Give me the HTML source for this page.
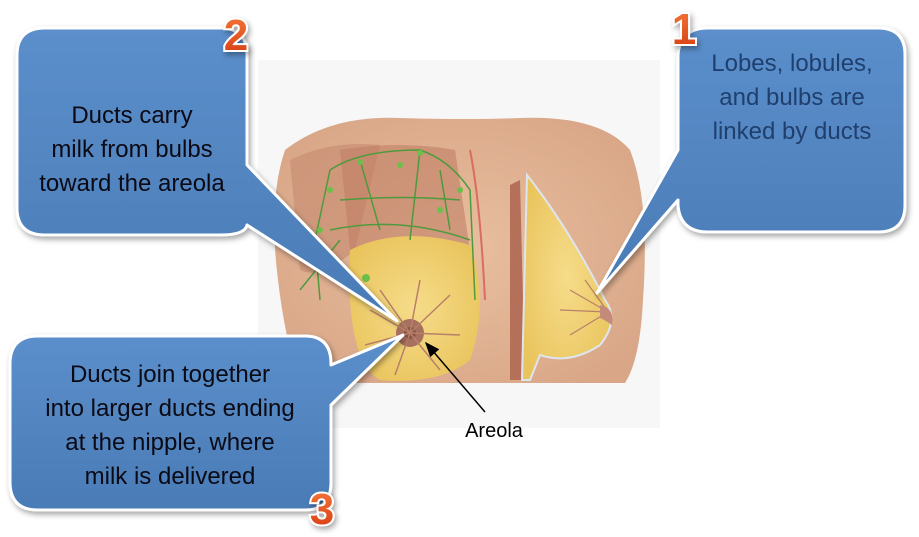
<!DOCTYPE html>
<html><head><style>
html,body{margin:0;padding:0;background:#fff;}
svg{display:block;}
text{font-family:"Liberation Sans",sans-serif;}
</style></head><body>
<svg width="919" height="537" viewBox="0 0 919 537" xmlns="http://www.w3.org/2000/svg">
<defs>
<linearGradient id="bl" x1="0" y1="0" x2="0" y2="1">
<stop offset="0" stop-color="#5b8fcb"/><stop offset="1" stop-color="#4a7bb6"/></linearGradient>
<linearGradient id="num" x1="0" y1="0" x2="0" y2="1">
<stop offset="0" stop-color="#f47a3a"/><stop offset="1" stop-color="#d63a10"/></linearGradient>
<radialGradient id="skin" cx="0.5" cy="0.5" r="0.6">
<stop offset="0" stop-color="#e8bf9f"/><stop offset="1" stop-color="#d9a788"/></radialGradient>
<radialGradient id="fat" cx="0.5" cy="0.5" r="0.6">
<stop offset="0" stop-color="#f6dc8a"/><stop offset="1" stop-color="#e9c45c"/></radialGradient>
<filter id="sh" x="-10%" y="-10%" width="130%" height="130%"><feDropShadow dx="2" dy="3" stdDeviation="3" flood-color="#000" flood-opacity="0.35"/></filter>
<marker id="ar" markerWidth="10" markerHeight="8" refX="9" refY="4" orient="auto"><path d="M0,0 L10,4 L0,8 z" fill="#000"/></marker>
</defs>
<rect x="258" y="60" width="402" height="368" fill="#f7f7f7"/>
<path d="M285,150 Q330,115 400,118 Q470,120 520,118 Q600,115 630,150 Q650,200 643,300 Q640,360 625,383 L300,383 Q285,340 278,280 Q268,200 285,150 Z" fill="url(#skin)"/>
<path d="M290,160 Q330,140 380,145 L355,250 Q320,280 300,270 Z" fill="#c98e73" opacity="0.7"/>
<path d="M340,150 Q400,140 455,150 L470,250 L350,250 Z" fill="#c07f66" opacity="0.6"/>
<path d="M350,250 Q400,225 470,245 Q490,300 470,360 Q440,385 380,380 Q345,360 350,250 Z" fill="url(#fat)"/>
<circle cx="410" cy="333" r="14" fill="#a8705e"/><circle cx="410" cy="333" r="6" fill="#8a5546"/>
<g stroke="#b7806a" stroke-width="1.5" fill="none">
<path d="M410,333 L380,290 M410,333 L420,280 M410,333 L450,295 M410,333 L460,335 M410,333 L440,370 M410,333 L395,375 M410,333 L365,345 M410,333 L370,310"/></g>
<g stroke="#4f9a3c" stroke-width="1.5" fill="none">
<path d="M330,170 Q360,150 420,150 Q450,160 470,190 L475,300 M330,170 L315,240 L320,300 M360,160 L380,230 M420,150 L410,240 M440,170 L450,230 M340,200 Q400,195 460,200 M330,230 Q400,215 470,240 M300,290 L340,240"/></g>
<g fill="#6cbf4a"><circle cx="360" cy="162" r="3"/><circle cx="420" cy="153" r="3"/><circle cx="400" cy="165" r="3"/><circle cx="460" cy="190" r="3"/><circle cx="330" cy="190" r="3"/><circle cx="320" cy="230" r="3"/><circle cx="366" cy="278" r="4"/><circle cx="440" cy="210" r="3"/></g>
<path d="M470,150 Q480,200 485,300" stroke="#d96d5e" stroke-width="2" fill="none"/>
<path d="M510,185 L520,180 L525,380 L510,380 Z" fill="#b5705a"/>
<path d="M527,175 Q570,230 605,300 Q620,320 600,345 Q570,365 540,355 L530,380 L522,380 Z" fill="url(#fat)" stroke="#dfe5ee" stroke-width="2"/>
<g stroke="#b7806a" stroke-width="1.2" fill="none"><path d="M608,312 L570,290 M608,312 L560,310 M608,312 L570,335 M608,312 L585,280"/></g>
<path d="M600,305 Q615,308 612,325 Q605,320 600,318 Z" fill="#c48a7a"/>
<g filter="url(#sh)">
<path d="M45,28 H220 Q247,28 247,55 V165 L397,321 L247,225 Q245,235 220,235 H45 Q17,235 17,208 V55 Q17,28 45,28 Z" fill="url(#bl)" stroke="#fff" stroke-width="3" stroke-linejoin="round"/>
<path d="M708,28 H878 Q905,28 905,55 V205 Q905,232 878,232 H708 Q680,232 678,205 V200 L597,293 L678,150 V55 Q680,28 708,28 Z" fill="url(#bl)" stroke="#fff" stroke-width="3" stroke-linejoin="round"/>
<path d="M38,336 H305 Q331,336 331,364 V365 L403,335 L331,405 V482 Q331,510 305,510 H38 Q10,510 10,482 V364 Q10,336 38,336 Z" fill="url(#bl)" stroke="#fff" stroke-width="3" stroke-linejoin="round"/>
</g>
<g font-size="24" fill="#0a0a14" text-anchor="middle">
<text x="132" y="123">Ducts carry</text>
<text x="132" y="157">milk from bulbs</text>
<text x="132" y="191">toward the areola</text>
<text x="170" y="382">Ducts join together</text>
<text x="170" y="416">into larger ducts ending</text>
<text x="170" y="450">at the nipple, where</text>
<text x="170" y="484">milk is delivered</text>
</g>
<g font-size="24" fill="#1f3f6e" text-anchor="middle">
<text x="792" y="71">Lobes, lobules,</text>
<text x="792" y="105">and bulbs are</text>
<text x="792" y="139">linked by ducts</text>
</g>
<g font-size="44" font-weight="bold" fill="url(#num)" stroke="#fff" stroke-width="4" paint-order="stroke" text-anchor="middle" filter="url(#sh)">
<text x="236" y="50">2</text>
<text x="684" y="44">1</text>
<text x="322" y="524">3</text>
</g>
<line x1="485" y1="412" x2="426" y2="343" stroke="#000" stroke-width="1.5" marker-end="url(#ar)"/>
<text x="494" y="437" font-size="20" fill="#000" text-anchor="middle">Areola</text>
</svg>
</body></html>
